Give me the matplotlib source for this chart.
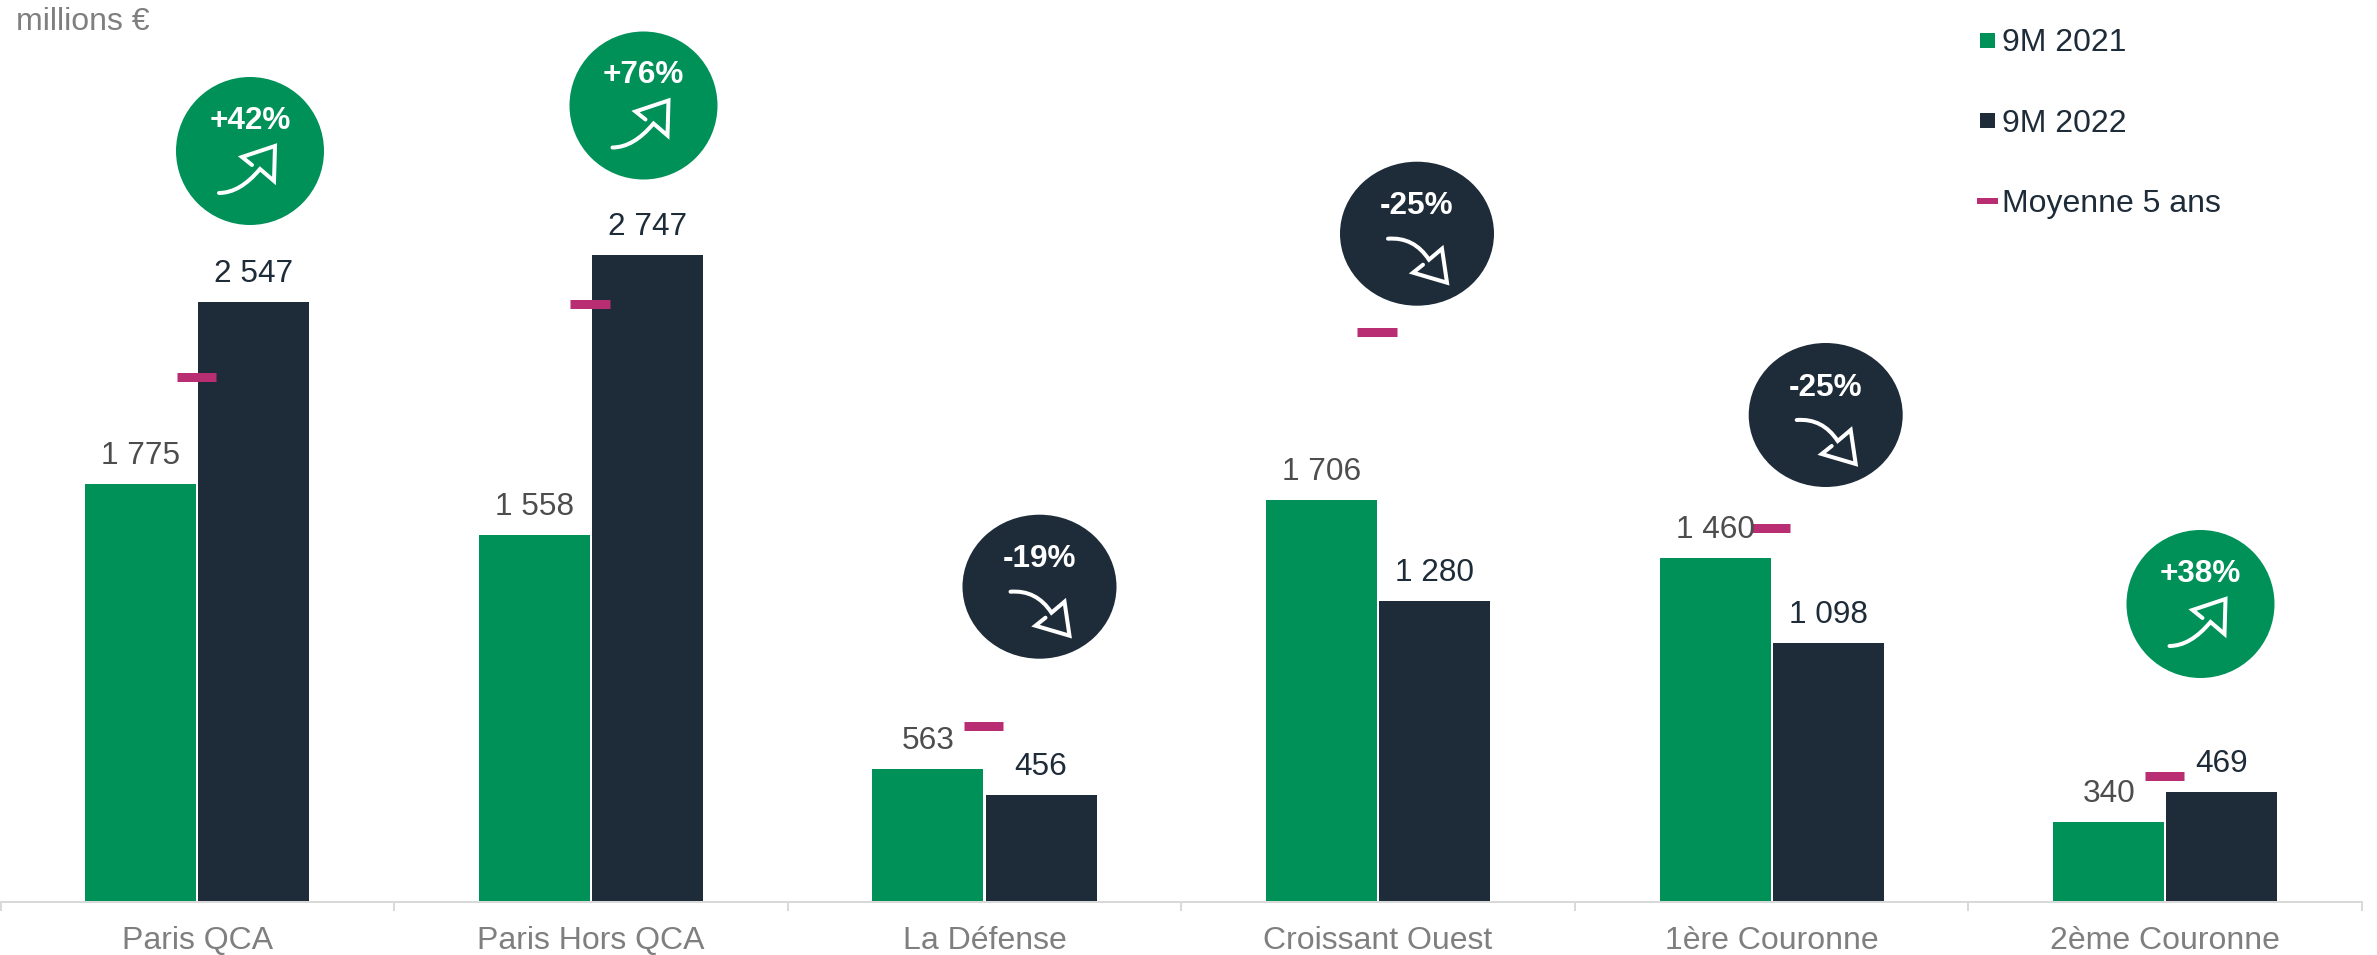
import matplotlib
matplotlib.use("Agg")
import matplotlib.pyplot as plt
import numpy as np
from matplotlib.lines import Line2D
from matplotlib.patches import Ellipse, PathPatch
from matplotlib.path import Path
from matplotlib.transforms import Affine2D

categories = ["Paris QCA", "Paris Hors QCA", "La Défense", "Croissant Ouest", "1ère Couronne", "2ème Couronne"]
values_2021 = [1775, 1558, 563, 1706, 1460, 340]
values_2022 = [2547, 2747, 456, 1280, 1098, 469]
average_5y = [2230, 2539, 747, 2420, 1589, 535]
changes = ["+42%", "+76%", "-19%", "-25%", "-25%", "+38%"]

GREEN = "#009159"
DARK = "#1E2C39"
PINK = "#B92D72"
GREY = "#7F7F7F"
VALGREY = "#4D4D4D"
W, H = 2377, 955
PT = 72 / 100  # points per pixel at dpi 100
FS = 31.5 * PT
FS_L = 32 * PT

plt.rcParams["font.family"] = ["Liberation Sans", "DejaVu Sans"]
fig = plt.figure(figsize=(W / 100, H / 100), dpi=100, facecolor="white")
ax = fig.add_axes([0.5 / W, (H - 902) / H, 2361.5 / W, 902 / H])
px = Affine2D().scale(1 / W, -1 / H).translate(0, 1) + fig.transFigure

x = np.arange(len(categories))
bw, off = 0.282, 0.1437
ax.bar(x - off, values_2021, bw, color=GREEN, label="9M 2021")
ax.bar(x + off, values_2022, bw, color=DARK, label="9M 2022")
ax.hlines(average_5y, x - 0.0525, x + 0.0475, color=PINK, lw=9 * PT, capstyle="butt", zorder=4)

ax.set_xlim(-0.5, 5.5)
ax.set_ylim(0, 902 / 0.2355)
ax.set_yticks([])
for s in ("top", "left", "right"):
    ax.spines[s].set_visible(False)
ax.spines["bottom"].set_color("#D9D9D9")
ax.spines["bottom"].set_linewidth(2 * PT)
ax.set_xticks(np.arange(-0.5, 6, 1))
ax.set_xticklabels([])
ax.tick_params(axis="x", which="major", length=9 * PT, width=2 * PT, color="#D9D9D9")
ax.set_xticks(x, minor=True)
ax.set_xticklabels(categories, minor=True, fontsize=FS_L, color=GREY)
ax.tick_params(axis="x", which="minor", length=0, pad=24 * PT)


def fmt(v):
    return f"{v:,}".replace(",", " ")


for xs, vals, col in ((x - off, values_2021, VALGREY), (x + off, values_2022, DARK)):
    for xi, v in zip(xs, vals):
        ax.annotate(fmt(v), (xi, v), xytext=(0, 13 * PT), textcoords="offset points",
                    ha="center", va="bottom", fontsize=FS, color=col, zorder=5)

fig.text(16 / W, 1 - 22 / H, "millions €", fontsize=FS_L, color=GREY, va="center", ha="left")

handles = [
    Line2D([], [], ls="none", marker="s", ms=15 * PT, mew=0, color=GREEN),
    Line2D([], [], ls="none", marker="s", ms=15 * PT, mew=0, color=DARK),
    Line2D([], [], ls="none", marker="_", ms=21 * PT, mew=6 * PT, color=PINK),
]
leg = ax.legend(handles, ["9M 2021", "9M 2022", "Moyenne 5 ans"], frameon=False, fontsize=FS_L,
                loc="upper left", bbox_to_anchor=(1976 / W, 1 - 28 / H), bbox_transform=fig.transFigure,
                borderpad=0, borderaxespad=0, handlelength=0.66, handletextpad=0.16, labelspacing=1.58,
                labelcolor=DARK, numpoints=1)

# circle centres (pixel), sizes, colours for the change badges
cx = [250, 643.5, 1039.5, 1417, 1825.7, 2200.5]
cy = [151, 105.5, 586.7, 233.7, 415, 604]
UP = Path([(-31, 42), (-10, 42), (10, 18), (24, 30), (25, -5), (-8, 6), (2, 14)],
          [Path.MOVETO, Path.CURVE3, Path.CURVE3, Path.LINETO, Path.LINETO, Path.LINETO, Path.LINETO])
DOWN = Path([(-29, 5), (-3, 3), (12, 26), (25, 15), (30, 49), (-4, 39), (6, 31)],
            [Path.MOVETO, Path.CURVE3, Path.CURVE3, Path.LINETO, Path.LINETO, Path.LINETO, Path.LINETO])
for cxi, cyi, lab in zip(cx, cy, changes):
    up = lab.startswith("+")
    w, h = (148, 148) if up else (154, 144)
    fig.add_artist(Ellipse((cxi, cyi), w, h, transform=px, fc=GREEN if up else DARK, ec="none", zorder=6))
    arrow = PathPatch(UP if up else DOWN, transform=Affine2D().translate(cxi, cyi) + px, fc="none", ec="white",
                      lw=4 * PT, capstyle="round", joinstyle="miter", zorder=7)
    fig.add_artist(arrow)
    fig.text(cxi / W, 1 - (cyi + (-30.5 if up else -27.5)) / H, lab, color="white", fontsize=FS, fontweight="bold",
             ha="center", va="center", zorder=8)

fig.savefig("out.png", dpi=100, facecolor="white")
